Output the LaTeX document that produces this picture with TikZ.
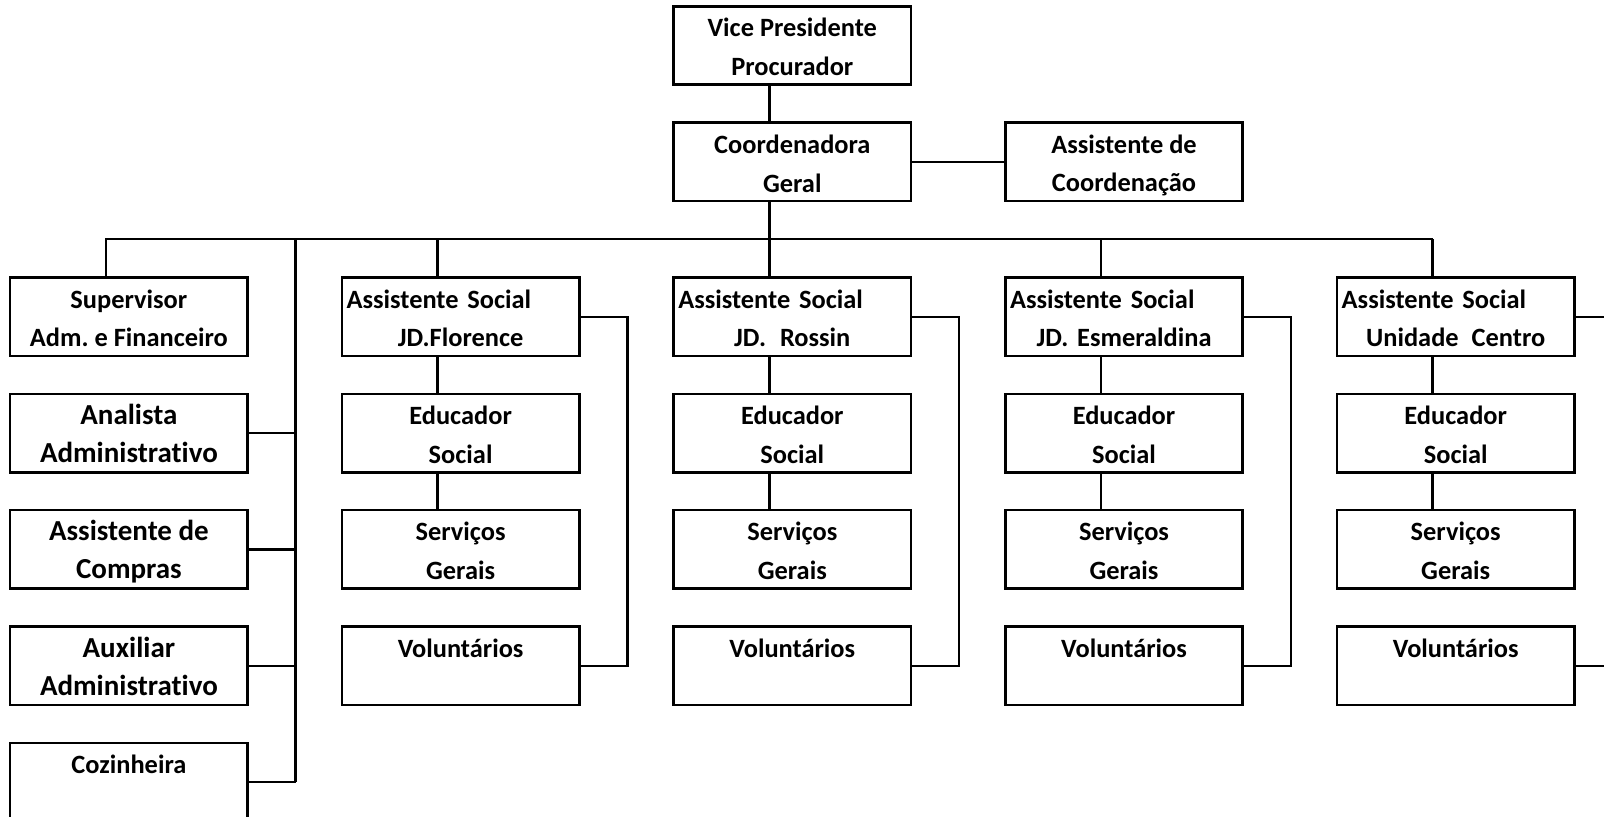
\documentclass[tikz,border=0pt]{standalone}
\usepackage{fontspec}
\setmainfont{Carlito}[Ligatures=NoCommon]
\begin{document}
\frenchspacing
\begin{tikzpicture}[x=0.5pt,y=-0.5pt,
  box/.style={draw, line width=1.3pt, minimum width=118.75pt, minimum height=39.2pt, inner sep=0pt,
    font=\fontsize{13.2}{19.4}\selectfont\bfseries\frenchspacing, align=center},
  bigbox/.style={box, font=\fontsize{14.5}{19}\selectfont\bfseries\frenchspacing},
  asbox/.style={box, text width=114pt},
  conn/.style={line width=1.25pt}]
\useasboundingbox (0,0) rectangle (1604,817);
\clip (0,0) rectangle (1604,817);
\newcommand{\ph}{\vphantom{Ay}}
\newcommand{\fl}{\rule{0pt}{12.8pt}}
% top
\node[box] (vp) at (792.3,45.5) {\fl Vice Presidente\\\ph Procurador};
\node[box] (coord) at (792.3,162) {\fl Coordenadora\\\ph Geral};
\node[box] (acoord) at (1124,162) {\fl Assistente de\\\ph Coordena\c{c}\~ao};
% left column
\node[box] (sup) at (128.9,316.8) {\fl Supervisor\\\ph Adm. e Financeiro};
\node[bigbox] (ana) at (128.9,433.1) {\fl Analista\\\ph Administrativo};
\node[bigbox] (comp) at (128.9,549.3) {\fl Assistente de\\\ph Compras};
\node[bigbox] (aux) at (128.9,665.8) {\fl Auxiliar\\\ph Administrativo};
\node[box] (coz) at (128.9,782.2) {\fl Cozinheira\\\ph};
% units
\node[asbox] (as1) at (460.6,316.8) {\makebox[114pt][l]{\fl Assistente Social}\\\ph JD.Florence};
\node[asbox] (as2) at (792.3,316.8) {\makebox[114pt][l]{\fl Assistente Social}\\\ph JD.\hspace{7pt}Rossin};
\node[asbox] (as3) at (1124,316.8) {\makebox[114pt][l]{\fl Assistente Social}\\\ph JD. Esmeraldina};
\node[asbox] (as4) at (1455.7,316.8) {\makebox[114pt][l]{\fl Assistente Social}\\\ph Unidade\hspace{6.5pt}Centro};
\foreach \i/\x in {1/460.6,2/792.3,3/1124,4/1455.7}{
  \node[box] (ed\i) at (\x,433.1) {\fl Educador\\\ph Social};
  \node[box] (sg\i) at (\x,549.3) {\fl Servi\c{c}os\\\ph Gerais};
  \node[box] (vo\i) at (\x,665.8) {\fl Volunt\'arios\\\ph};
}
% connectors
\coordinate (bus) at (0,239);
\coordinate (lv) at (295.6,239);
\coordinate (c0) at ([xshift=-11.5pt]coord.south);
\coordinate (d0) at ([xshift=-11.5pt]sup.north);
\draw[conn] ([xshift=-11.5pt]vp.south) -- ([xshift=-11.5pt]coord.north);
\draw[conn] (coord.east) -- (acoord.west);
\draw[conn] (c0) -- (c0 |- bus);
\foreach \i in {1,2,3,4}{
  \coordinate (d\i) at ([xshift=-11.5pt]as\i.north);
  \draw[conn] (d\i) -- (d\i |- bus);
  \draw[conn] ([xshift=-11.5pt]as\i.south) -- ([xshift=-11.5pt]ed\i.north);
  \draw[conn] ([xshift=-11.5pt]ed\i.south) -- ([xshift=-11.5pt]sg\i.north);
  \draw[conn] (as\i.east) -- ++(23.4pt,0) |- (vo\i.east);
}
\draw[conn] (d0) -- (d0 |- bus) -- (d4 |- bus);
\draw[conn] (lv) -- (lv |- coz.east);
\foreach \n in {ana,comp,aux,coz}{
  \draw[conn] (\n.east) -- (\n.east -| lv);
}
\end{tikzpicture}
\end{document}
